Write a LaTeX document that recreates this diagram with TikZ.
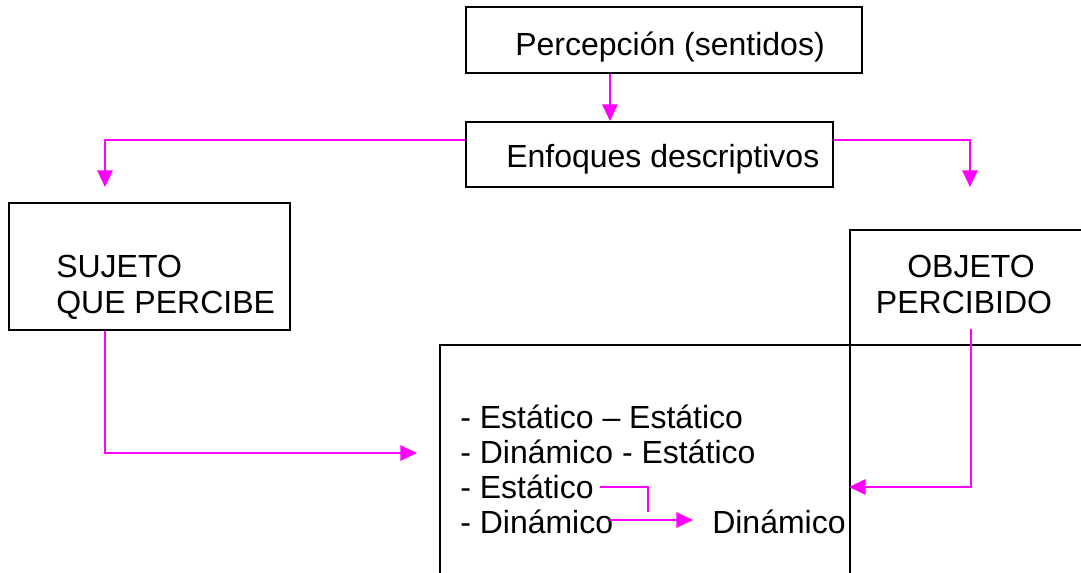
\documentclass[tikz,border=0pt]{standalone}
\usepackage{fontspec}
\setmainfont{Liberation Sans}
\usetikzlibrary{arrows.meta,fit}
\definecolor{mag}{RGB}{255,0,255}
\tikzset{
  box/.style={draw=black, line width=1.5pt, inner sep=0pt},
  conn/.style={draw=mag, line width=1.6pt},
  arr/.style={conn, -{Triangle[length=12.5pt,width=11.5pt]}},
  lbl/.style={inner sep=0pt, anchor=base west, font=\fontsize{24}{28}\selectfont},
  clbl/.style={inner sep=0pt, anchor=base, font=\fontsize{24}{28}\selectfont},
}
\begin{document}
\begin{tikzpicture}[x=0.75pt,y=-0.75pt]
\useasboundingbox (0,0) rectangle (1081,572);
\clip (0,0) rectangle (1081,572);
% boxes
\node[box, fit={(466,7) (862,73)}] (perc) {};
\node[box, fit={(466,122) (833,187)}] (enf) {};
\node[box, fit={(9,203) (290,330)}] (suj) {};
\node[box, fit={(850,230) (1100,600)}] (obj) {};
\node[box, fit={(440,345) (1100,600)}] (big) {};
% labels
\node[lbl] (tperc) at (515,55) {Percepción (sentidos)};
\node[lbl] (tenf) at (506,167) {Enfoques descriptivos};
\node[lbl] (tsuj1) at (56,277) {SUJETO};
\node[lbl] (tsuj2) at (56,313) {QUE PERCIBE};
\node[clbl] (tobj1) at (971,277) {OBJETO};
\node[clbl] (tobj2) at (964,313) {PERCIBIDO};
\node[lbl] (l1) at (460,428) {- Estático – Estático};
\node[lbl] (l2) at (460,463) {- Dinámico - Estático};
\node[lbl] (l3) at (460,498) {- Estático};
\node[lbl] (l4) at (460,533) {- Dinámico};
\node[lbl] (l5) at (712,533) {Dinámico};
% connector points
\coordinate (sujtip) at (105,187);
\coordinate (objtip) at (970,187);
\coordinate (bigtip) at (417,453);
\coordinate (objstart) at (971,329);
\coordinate (eststart) at (600,487);
\coordinate (estend) at (648,512);
\coordinate (dinstart) at (610,520);
\coordinate (dintip) at (693,520);
% connectors
\draw[arr] (perc.south -| 610,0) -- (enf.north -| 610,0);
\draw[arr] (enf.west |- 0,140) -| (sujtip);
\draw[arr] (enf.east |- 0,140) -| (objtip);
\draw[arr] (suj.south -| 105,0) |- (bigtip);
\draw[arr] (objstart) |- (obj.west |- 0,487);
\draw[conn] (eststart) -| (estend);
\draw[arr] (dinstart) -- (dintip);
\end{tikzpicture}
\end{document}
